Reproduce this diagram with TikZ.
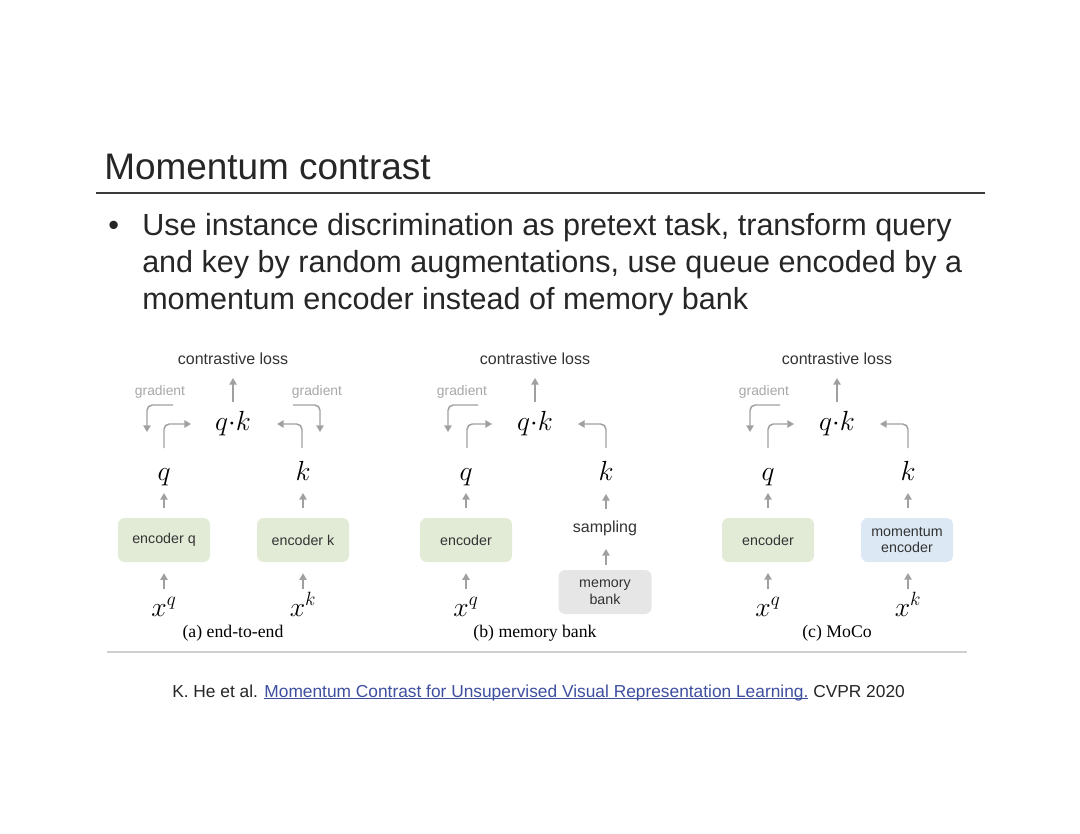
\documentclass[tikz,border=0pt]{standalone}
\usepackage{fontspec}
\setmainfont{Liberation Sans}
\newfontfamily\serifcap{Liberation Serif}
\usetikzlibrary{arrows.meta}
\definecolor{arrgray}{HTML}{A0A0A0}
\definecolor{gradgray}{HTML}{A8A8A8}
\definecolor{dtext}{HTML}{333333}
\definecolor{slidetext}{HTML}{262626}
\definecolor{rulec}{HTML}{3A3A3A}
\definecolor{thinrule}{HTML}{CFCFCF}
\definecolor{greenbox}{HTML}{E2EBD6}
\definecolor{bluebox}{HTML}{DCE8F3}
\definecolor{graybox}{HTML}{E6E6E6}
\definecolor{linkblue}{HTML}{3E4FA0}
\tikzset{
  arr/.style={draw=arrgray, line width=1.1pt, -{Triangle[length=5pt,width=5.5pt]}},
  bendarr/.style={arr, rounded corners=4pt},
  losslbl/.style={font=\fontsize{12}{14}\selectfont, text=dtext, inner sep=0pt},
  gradlbl/.style={font=\fontsize{10.4}{12}\selectfont, text=gradgray, inner sep=0pt},
  mathlbl/.style={font=\fontsize{20}{23}\selectfont, text=black, inner sep=0pt, anchor=base},
  caplbl/.style={font=\serifcap\fontsize{13.3}{15}\selectfont, text=black, inner sep=0pt, anchor=base},
  boxbase/.style={rounded corners=5pt, minimum width=69pt, minimum height=33pt, inner sep=0pt,
    font=\fontsize{10.7}{12.5}\selectfont, text=dtext, align=center},
  encgreen/.style={boxbase, fill=greenbox},
  encblue/.style={boxbase, fill=bluebox},
  memgray/.style={boxbase, fill=graybox, minimum width=69.75pt},
  slidebody/.style={font=\fontsize{22.9}{27}\selectfont, text=slidetext, inner sep=0pt, anchor=base west},
}
\begin{document}
\begin{tikzpicture}[x=0.75pt,y=-0.75pt]
\path[use as bounding box, fill=white] (0,0) rectangle (1080,834);

% Title and rule
\node[font=\fontsize{27.7}{32}\selectfont, text=slidetext, inner sep=0pt, anchor=base west] (title) at (104,180) {Momentum contrast};
\coordinate (ruleL) at (96,193);
\coordinate (ruleR) at (985,193);
\draw[rulec, line width=2pt] (ruleL) -- (ruleR);

% Bullet text
\node[slidebody] (bullet) at (108,235) {\textbullet};
\node[slidebody] (line1) at (142,235) {Use instance discrimination as pretext task, transform query};
\node[slidebody] (line2) at (142,272) {and key by random augmentations, use queue encoded by a};
\node[slidebody] (line3) at (142,309) {momentum encoder instead of memory bank};

% ===== Panel (a) =====
\node[losslbl] (a-loss) at (233,359) {contrastive loss};
\coordinate (a-u1) at (233,402); \coordinate (a-u2) at (233,378);
\draw[arr] (a-u1) -- (a-u2);
\node[gradlbl] (a-gl) at (160,392) {gradient};
\node[gradlbl] (a-gr) at (317,392) {gradient};
\node[mathlbl] (a-qk) at (233,430) {$q{\cdot}k$};
\coordinate (a-g1) at (173,405); \coordinate (a-g2) at (147,432);
\draw[bendarr] (a-g1) -| (a-g2);
\coordinate (a-f1) at (164,448); \coordinate (a-f2) at (191,424);
\draw[bendarr] (a-f1) |- (a-f2);
\coordinate (a-k1) at (302,448); \coordinate (a-k2) at (277,424);
\draw[bendarr] (a-k1) |- (a-k2);
\coordinate (a-h1) at (293,405); \coordinate (a-h2) at (320,432);
\draw[bendarr] (a-h1) -| (a-h2);
\node[mathlbl] (a-q) at (164,480) {$q$};
\node[mathlbl] (a-k) at (303,480) {$k$};
\node[encgreen] (a-encq) at (164,540) {encoder q};
\node[encgreen] (a-enck) at (303,540) {encoder k};
\coordinate (a-e1) at (164,508); \coordinate (a-e2) at (164,493);
\draw[arr] (a-e1) -- (a-e2);
\coordinate (a-e3) at (303,508); \coordinate (a-e4) at (303,493);
\draw[arr] (a-e3) -- (a-e4);
\node[mathlbl] (a-xq) at (164,616) {$x^q$};
\node[mathlbl] (a-xk) at (303,616) {$x^k$};
\coordinate (a-i1) at (164,589); \coordinate (a-i3) at (303,589);
\draw[arr, shorten >=8.25pt] (a-i1) -- (a-encq.south);
\draw[arr, shorten >=8.25pt] (a-i3) -- (a-enck.south);
\node[caplbl] (a-cap) at (233,637) {(a) end-to-end};

% ===== Panel (b) =====
\node[losslbl] (b-loss) at (535,359) {contrastive loss};
\coordinate (b-u1) at (535,402); \coordinate (b-u2) at (535,378);
\draw[arr] (b-u1) -- (b-u2);
\node[gradlbl] (b-gl) at (462,392) {gradient};
\node[mathlbl] (b-qk) at (535,430) {$q{\cdot}k$};
\coordinate (b-g1) at (478,405); \coordinate (b-g2) at (448,432);
\draw[bendarr] (b-g1) -| (b-g2);
\coordinate (b-f1) at (467,448); \coordinate (b-f2) at (492,424);
\draw[bendarr] (b-f1) |- (b-f2);
\coordinate (b-k1) at (606,448); \coordinate (b-k2) at (578,424);
\draw[bendarr] (b-k1) |- (b-k2);
\node[mathlbl] (b-q) at (466,480) {$q$};
\node[mathlbl] (b-k) at (606,480) {$k$};
\node[encgreen] (b-enc) at (466,540) {encoder};
\node[losslbl] (b-samp) at (605,528) {sampling};
\node[memgray] (b-mem) at (605,592) {memory\\bank};
\coordinate (b-e1) at (466,508); \coordinate (b-e2) at (466,493);
\draw[arr] (b-e1) -- (b-e2);
\coordinate (b-s1) at (606,509); \coordinate (b-s2) at (606,494);
\draw[arr] (b-s1) -- (b-s2);
\coordinate (b-m1) at (606,565); \coordinate (b-m2) at (606,549);
\draw[arr] (b-m1) -- (b-m2);
\node[mathlbl] (b-xq) at (466,616) {$x^q$};
\coordinate (b-i1) at (466,589);
\draw[arr, shorten >=8.25pt] (b-i1) -- (b-enc.south);
\node[caplbl] (b-cap) at (535,637) {(b) memory bank};

% ===== Panel (c) =====
\node[losslbl] (c-loss) at (837,359) {contrastive loss};
\coordinate (c-u1) at (837,402); \coordinate (c-u2) at (837,378);
\draw[arr] (c-u1) -- (c-u2);
\node[gradlbl] (c-gl) at (764,392) {gradient};
\node[mathlbl] (c-qk) at (837,430) {$q{\cdot}k$};
\coordinate (c-g1) at (780,405); \coordinate (c-g2) at (750,432);
\draw[bendarr] (c-g1) -| (c-g2);
\coordinate (c-f1) at (768,448); \coordinate (c-f2) at (794,424);
\draw[bendarr] (c-f1) |- (c-f2);
\coordinate (c-k1) at (908,448); \coordinate (c-k2) at (880,424);
\draw[bendarr] (c-k1) |- (c-k2);
\node[mathlbl] (c-q) at (768,480) {$q$};
\node[mathlbl] (c-k) at (908,480) {$k$};
\node[encgreen] (c-enc) at (768,540) {encoder};
\node[encblue] (c-menc) at (907,540) {momentum\\encoder};
\coordinate (c-e1) at (768,508); \coordinate (c-e2) at (768,493);
\draw[arr] (c-e1) -- (c-e2);
\coordinate (c-e3) at (908,508); \coordinate (c-e4) at (908,493);
\draw[arr] (c-e3) -- (c-e4);
\node[mathlbl] (c-xq) at (768,616) {$x^q$};
\node[mathlbl] (c-xk) at (908,616) {$x^k$};
\coordinate (c-i1) at (768,589); \coordinate (c-i3) at (908,589);
\coordinate (c-i2) at (768,573); \coordinate (c-i4) at (908,573);
\draw[arr] (c-i1) -- (c-i2);
\draw[arr] (c-i3) -- (c-i4);
\node[caplbl] (c-cap) at (837,637) {(c) MoCo};

% bottom rule and citation
\coordinate (botL) at (107,652); \coordinate (botR) at (967,652);
\draw[thinrule, line width=0.9pt] (botL) -- (botR);
\node[font=\fontsize{13}{16}\selectfont, text=slidetext, inner sep=0pt, anchor=base west] (cite) at (172,697)
  {K. He et al. \textcolor{linkblue}{\setbox0\hbox{Momentum Contrast for Unsupervised Visual Representation Learning.}\rlap{\rule[-1.6pt]{\wd0}{0.6pt}}\box0} CVPR 2020};
\end{tikzpicture}
\end{document}
